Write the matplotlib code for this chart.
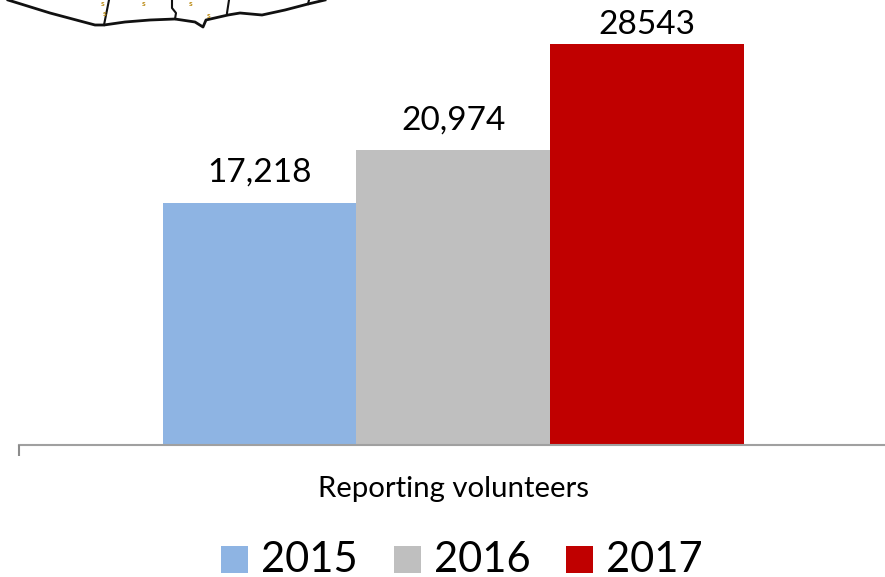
import matplotlib
matplotlib.use("Agg")
import matplotlib.pyplot as plt
from matplotlib.patches import Rectangle

# ----------------------------
# Chart data
# ----------------------------

years = ["2015", "2016", "2017"]
volunteers = [17218, 20974, 28543]
value_labels = ["17,218", "20,974", "28543"]
bar_colors = ["#8EB4E3", "#BFBFBF", "#C00000"]
category = "Reporting volunteers"

# Bottom edge of the map, in page pixels
coast_x = [8, 50, 95, 104, 125, 150, 175, 195, 203, 206, 228, 240, 262, 285, 308, 325]
coast_y = [0, 13, 25, 25, 22, 20, 19, 22, 27, 20, 15, 13, 15, 10, 4, 0]
border_lines = [
    ([109, 104], [0, 25]),
    ([172, 172, 176, 175], [0, 8, 13, 19]),
    ([229, 227], [0, 13]),
    ([309, 308], [0, 4]),
]
site_x = [103, 105, 144, 191, 209]
site_y = [4, 14, 4, 4, 15]

plt.rcParams["font.family"] = ["Lato", "DejaVu Sans"]

W, H = 885, 577
BAR_PX = 193.7
CENTER_PX = 453.2

fig = plt.figure(figsize=(W / 100, H / 100), dpi=100)

# ----------------------------
# Bars
# ----------------------------

ax = fig.add_axes([19 / W, 1 - 445 / H, (W - 19) / W, 445 / H])
ax.patch.set_alpha(0)

positions = list(range(len(years)))
ax.bar(positions, volunteers, width=1.0, color=bar_colors)

# The tallest label sits closer to its bar, there is no more room above it
label_offsets = [11, 11, 3]
for pos, value, label, offset in zip(positions, volunteers, value_labels, label_offsets):
    ax.annotate(label, (pos, value), xytext=(0, offset), textcoords="offset points",
                ha="center", va="bottom", fontsize=24, color="black")

ax.set_xlim((19 - CENTER_PX) / BAR_PX + 1, (W - CENTER_PX) / BAR_PX + 1)
ax.set_ylim(0, 31673)
ax.set_yticks([])
ax.set_xticks([])

for side in ["top", "right", "left"]:
    ax.spines[side].set_visible(False)
ax.spines["bottom"].set_color("#A0A0A0")
ax.spines["bottom"].set_linewidth(1.5)

# Everything else is placed in page pixels
page = fig.add_axes([0, 0, 1, 1])
page.set_xlim(0, W)
page.set_ylim(H, 0)
page.axis("off")
page.patch.set_alpha(0)

# Tick at the left end of the axis and the category name
page.plot([19, 19], [445, 456], color="#8C8C8C", lw=1.5, solid_capstyle="butt")
page.text(453.5, 489, category, ha="center", va="center", fontsize=21.2)

# ----------------------------
# Map fragment
# ----------------------------

page.plot(coast_x, coast_y, color="#111111", lw=2, solid_joinstyle="round")
for line_x, line_y in border_lines:
    page.plot(line_x, line_y, color="#111111", lw=1.5)
for sx, sy in zip(site_x, site_y):
    page.text(sx, sy, "s", color="#B8860B", fontsize=6, fontweight="bold",
              ha="center", va="center")

# ----------------------------
# Legend
# ----------------------------

swatch_x = [221, 394, 566]
label_x = [261, 434, 606]
for sx, lx, year, color in zip(swatch_x, label_x, years, bar_colors):
    page.add_patch(Rectangle((sx, 546), 27, 27, color=color, lw=0))
    page.text(lx, 572, year, ha="left", va="baseline", fontsize=30, color="black")

fig.savefig("out.png", dpi=100)
